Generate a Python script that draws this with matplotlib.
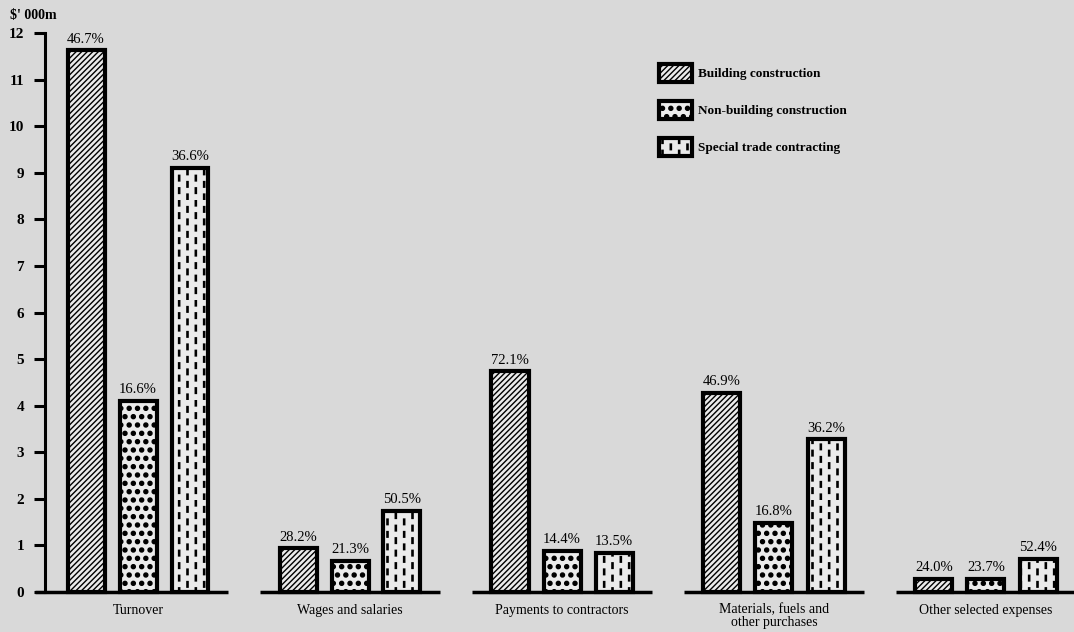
import warnings
warnings.filterwarnings("ignore")
import numpy as np
import matplotlib
matplotlib.use("Agg")
import matplotlib.pyplot as plt
import matplotlib.hatch as mhatch
from matplotlib.path import Path
from matplotlib.patches import Patch

# ---------------- data ----------------
categories = ["Turnover", "Wages and salaries", "Payments to contractors",
              "Materials, fuels and\nother purchases", "Other selected expenses"]
series_names = ["Building construction", "Non-building construction",
                "Special trade contracting"]
building = [11.63, 0.94, 4.74, 4.27, 0.28]
non_building = [4.10, 0.67, 0.88, 1.48, 0.28]
special_trade = [9.10, 1.74, 0.84, 3.28, 0.71]
pct_building = ["46.7%", "28.2%", "72.1%", "46.9%", "24.0%"]
pct_non_building = ["16.6%", "21.3%", "14.4%", "16.8%", "23.7%"]
pct_special = ["36.6%", "50.5%", "13.5%", "36.2%", "52.4%"]
y_ticks = list(range(0, 13))
y_unit = "$' 000m"

# ---------------- custom hatches ----------------
class BigDots(mhatch.Shapes):
    size = 0.24
    filled = True
    def __init__(self, hatch, density):
        path = Path.unit_circle()
        self.shape_vertices = path.vertices
        self.shape_codes = path.codes
        self.num_rows = hatch.count('@') * density
        super().__init__(hatch, density)


class VDashes(mhatch.HatchPatternBase):
    """Staggered columns of short vertical dashes."""
    def __init__(self, hatch, density):
        n = hatch.count('!')
        self.ncols = 2 * n * density
        self.nrows = int(round(1.35 * n * density))
        self.num_vertices = self.ncols * self.nrows * 5 if n else 0

    def set_vertices_and_codes(self, vertices, codes):
        hw = 0.006
        hh = 0.45 * 0.5 / self.nrows
        k = 0
        for j in range(self.ncols):
            cx = (j + 0.5) / self.ncols
            for i in range(self.nrows):
                cy = (i + 0.25 + 0.5 * (j % 2)) / self.nrows
                vertices[k:k + 5] = [[cx - hw, cy - hh], [cx + hw, cy - hh],
                                     [cx + hw, cy + hh], [cx - hw, cy + hh],
                                     [cx - hw, cy - hh]]
                codes[k:k + 5] = [Path.MOVETO, Path.LINETO, Path.LINETO,
                                  Path.LINETO, Path.CLOSEPOLY]
                k += 5


mhatch._hatch_types.append(BigDots)
mhatch._hatch_types.append(VDashes)

plt.rcParams['font.family'] = ['Liberation Serif', 'DejaVu Serif']
plt.rcParams['hatch.linewidth'] = 1.0

BG = '#d9d9d9'
FILL = '#ebebeb'
hatches = ['//////', '@@', '!']
series = [building, non_building, special_trade]
pcts = [pct_building, pct_non_building, pct_special]

fig = plt.figure(figsize=(10.74, 6.32), dpi=100, facecolor=BG)
W, H = 1074, 632
left_px, bottom_px = 45, 40
ax = fig.add_axes([left_px / W, bottom_px / H, (W - left_px) / W, 559 / H])
ax.set_facecolor('none')

group_px = 212.0
x0 = 138.0
ax.set_xlim((left_px - x0) / group_px, (W - x0) / group_px)
ax.set_ylim(0, 12)

step = 52 / group_px
width = 37 / group_px
x = np.arange(len(categories))

for i, (vals, lab, hat) in enumerate(zip(series, pcts, hatches)):
    xs = x + (i - 1) * step
    bars = ax.bar(xs, vals, width=width, facecolor=FILL, edgecolor='black',
                  linewidth=3, hatch=hat, clip_on=False, zorder=3)
    for b, t in zip(bars, lab):
        ax.text(b.get_x() + b.get_width() / 2, b.get_height() + 0.1, t,
                ha='center', va='bottom', fontsize=10.5)

# group baselines
half = 90 / group_px
for xi in x:
    lo = xi - half if xi > 0 else ax.get_xlim()[0] - 10 / group_px
    ax.plot([lo, xi + half], [0, 0], color='black', lw=2.5, clip_on=False,
            zorder=4, solid_capstyle='butt')
    ax.text(xi, -0.25, categories[xi], ha='center', va='top', fontsize=10,
            linespacing=0.95)

for s in ['top', 'right', 'bottom']:
    ax.spines[s].set_visible(False)
ax.spines['left'].set_linewidth(2.2)
ax.spines['left'].set_bounds(0, 12)
ax.set_xticks([])
ax.set_yticks(y_ticks)
ax.set_yticklabels([str(t) for t in y_ticks], fontsize=11, fontweight='bold')
ax.tick_params(axis='y', length=8, width=2.2, pad=7)

fig.text(10 / W, 1 - 16 / H, y_unit, fontsize=10, fontweight='bold',
         ha='left', va='center')

handles = [Patch(facecolor=FILL, edgecolor='black', linewidth=3, hatch=h)
           for h in hatches]
leg = fig.legend(handles, series_names, loc='upper left',
                 bbox_to_anchor=(647 / W, 1 - 52 / H), frameon=False,
                 prop={'size': 9.5, 'weight': 'bold'},
                 handlelength=2.5, handleheight=1.7, labelspacing=1.45,
                 handletextpad=0.5)

fig.savefig('out.png', dpi=100, facecolor=BG)
